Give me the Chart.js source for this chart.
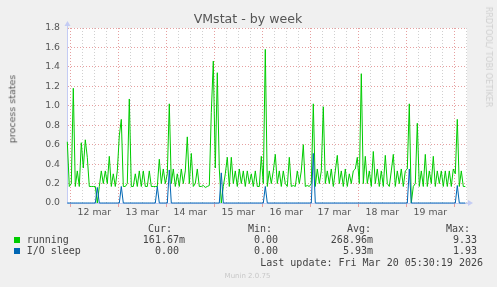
<!DOCTYPE html>
<html>
<head>
<meta charset="utf-8">
<script src="https://cdn.jsdelivr.net/npm/chart.js@4"></script>
<style>
    body { margin: 0; background: #f0f0f0; overflow: hidden; }
    #wrap { position: relative; width: 497px; height: 287px; font-family: 'DejaVu Sans', sans-serif; }
    #wrap canvas { position: absolute; left: 0; top: 0; }
    .t { position: absolute; line-height: 1; white-space: pre; }
    .mono { font-family: 'DejaVu Sans Mono', monospace; font-size: 10px; color: #444; }
    .r { text-align: right; }
    .sq { position: absolute; width: 6px; height: 6px; }
</style>
</head>
<body>
<div id="wrap">
    <canvas id="myChart" width="497" height="287"></canvas>
    <div class="t" style="left:0;width:496px;text-align:center;top:13.3px;font-size:12.6px;color:#555;">VMstat - by week</div>
    <div class="t" style="left:11.7px;top:108.5px;font-size:9.5px;color:#555;transform:translate(-50%,-50%) rotate(-90deg);">process states</div>
    <div class="t" style="left:487.8px;top:56.5px;font-size:8px;color:#d0d0d0;transform:translate(-50%,-50%) rotate(90deg);">RRDTOOL/ TOBI OETIKER</div>

    <div class="t mono r" style="right:325px;top:223.5px;">Cur:</div>
    <div class="t mono r" style="right:225px;top:223.5px;">Min:</div>
    <div class="t mono r" style="right:126px;top:223.5px;">Avg:</div>
    <div class="t mono r" style="right:27px;top:223.5px;">Max:</div>

    <div class="sq" style="left:14px;top:237px;background:#00cc00;"></div>
    <div class="t mono" style="left:26.7px;top:234.5px;">running</div>
    <div class="t mono r" style="right:312px;top:234.5px;">161.67m</div>
    <div class="t mono r" style="right:219px;top:234.5px;">0.00</div>
    <div class="t mono r" style="right:124px;top:234.5px;">268.96m</div>
    <div class="t mono r" style="right:20px;top:234.5px;">9.33</div>

    <div class="sq" style="left:14px;top:248px;background:#0066b3;"></div>
    <div class="t mono" style="left:26.7px;top:245.8px;">I/O sleep</div>
    <div class="t mono r" style="right:318px;top:245.8px;">0.00</div>
    <div class="t mono r" style="right:219px;top:245.8px;">0.00</div>
    <div class="t mono r" style="right:124px;top:245.8px;">5.93m</div>
    <div class="t mono r" style="right:20px;top:245.8px;">1.93</div>

    <div class="t mono r" style="right:14px;top:258.2px;">Last update: Fri Mar 20 05:30:19 2026</div>
    <div class="t" style="left:0;width:495px;text-align:center;top:273.1px;font-size:7px;color:#c8c8c8;">Munin 2.0.75</div>
</div>
<script>
// hourly samples, first one at 22:30 on 11 mar (hours relative to 12 mar 00:00)
const firstHour = -1.5;
const xMin = -1.65;
const xMax = 198.35;

const running = [
    0.63, 0.17, 0.2, 1.18, 0.17, 0.33, 0.17, 0.62, 0.36, 0.65,
    0.47, 0.17, 0.17, 0.17, 0.17, 0, 0.17, 0.33, 0.2, 0.33,
    0.2, 0.48, 0.17, 0.3, 0.17, 0.33, 0.69, 0.86, 0.17, 0.17,
    0.2, 1.07, 0.17, 0.17, 0.3, 0.17, 0.33, 0.17, 0.33, 0.17,
    0.17, 0.33, 0.17, 0.17, 0.17, 0.17, 0.45, 0.2, 0.35, 0.2,
    0.3, 1.02, 0.2, 0.35, 0.17, 0.3, 0.17, 0.35, 0.2, 0.33,
    0.68, 0.2, 0.51, 0.17, 0.2, 0.35, 0.17, 0.17, 0.18, 0.16,
    0.17, 0.18, 0.93, 1.46, 0.36, 1.34, 0.35, 0, 0.17, 0.3,
    0.47, 0.17, 0.47, 0.2, 0.33, 0.17, 0.35, 0.2, 0.33, 0.17,
    0.33, 0.2, 0.3, 0.17, 0.33, 0.17, 0.17, 0.48, 0.2, 1.58,
    0.17, 0.33, 0.2, 0.33, 0.5, 0.2, 0.33, 0.17, 0.33, 0.2,
    0.17, 0.47, 0.17, 0.18, 0.17, 0.33, 0.2, 0.33, 0.6, 0.17,
    0.18, 0.17, 0.2, 1.02, 0.17, 0.35, 0.2, 0.33, 0.99, 0.2,
    0.33, 0.2, 0.35, 0.17, 0.33, 0.49, 0.2, 0.33, 0.17, 0.35,
    0.17, 0.3, 0.2, 0.33, 0.35, 0.47, 0.2, 1.33, 0.2, 0.48,
    0.2, 0.33, 0.17, 0.53, 0.2, 0.35, 0.17, 0.33, 0.17, 0.49,
    0.2, 0.17, 0.33, 0.5, 0.17, 0.33, 0.2, 0.35, 0.17, 0.33,
    0.35, 1.02, 0, 0.17, 0.2, 0.82, 0.17, 0.33, 0.17, 0.5,
    0.17, 0.33, 0.2, 0.48, 0.17, 0.33, 0.2, 0.33, 0.17, 0.33,
    0.17, 0.33, 0.17, 0.35, 0.3, 0.86, 0.17, 0.33, 0.17, 0.17
];

const ioSleep = [
    0, 0, 0, 0, 0, 0, 0, 0, 0, 0,
    0, 0, 0, 0, 0, 0.16, 0, 0, 0, 0,
    0, 0, 0, 0, 0, 0, 0, 0.17, 0, 0,
    0, 0, 0, 0, 0, 0, 0, 0, 0, 0,
    0, 0, 0, 0, 0, 0.17, 0, 0, 0, 0,
    0, 0.34, 0, 0, 0, 0, 0, 0, 0, 0,
    0, 0, 0, 0, 0, 0, 0, 0, 0, 0,
    0, 0, 0, 0, 0, 0, 0, 0.31, 0, 0,
    0, 0, 0, 0, 0, 0, 0, 0, 0, 0,
    0, 0, 0, 0, 0, 0, 0, 0, 0, 0.17,
    0, 0, 0, 0, 0, 0, 0, 0, 0, 0,
    0, 0, 0, 0, 0, 0, 0, 0, 0, 0,
    0, 0, 0, 0.51, 0, 0, 0, 0, 0, 0,
    0, 0, 0, 0, 0, 0, 0, 0, 0, 0,
    0, 0, 0, 0, 0, 0, 0, 0, 0, 0,
    0, 0, 0, 0, 0, 0, 0, 0, 0, 0,
    0, 0, 0, 0, 0, 0, 0, 0, 0, 0,
    0, 0.35, 0, 0, 0, 0, 0, 0, 0, 0,
    0, 0, 0, 0, 0, 0, 0, 0, 0, 0,
    0, 0, 0, 0, 0, 0.18, 0, 0, 0, 0
];

const dayLabels = ['12 mar', '13 mar', '14 mar', '15 mar', '16 mar', '17 mar', '18 mar', '19 mar'];
const yLabels = ['0.0', '0.2', '0.4', '0.6', '0.8', '1.0', '1.2', '1.4', '1.6', '1.8'];

const axisColor = '#c4ccf4';
const majorGrid = '#e6a0a0';
const minorGrid = '#d0d0d0';

// x grid every 6 hours, y grid every 0.1
const xTickHours = [];
for (let h = 0; h <= xMax; h += 6) xTickHours.push(h);
const yTickTenths = [];
for (let k = 0; k <= 18; k++) yTickTenths.push(k);

const toPoints = (values) => values.map((y, i) => ({ x: firstHour + i, y: y }));

const plotBackground = {
    id: 'plotBackground',
    beforeDraw(chart)
    {
        const { ctx, chartArea: a } = chart;
        ctx.save();
        ctx.fillStyle = '#ffffff';
        ctx.fillRect(a.left, a.top, a.right - a.left, a.bottom - a.top);
        ctx.restore();
    }
};

const axisArrows = {
    id: 'axisArrows',
    afterDraw(chart)
    {
        const { ctx, chartArea: a } = chart;
        const x = a.left + 0.5;
        const y = a.bottom;
        ctx.save();
        ctx.strokeStyle = axisColor;
        ctx.fillStyle = axisColor;
        ctx.lineWidth = 1;
        ctx.beginPath();
        ctx.moveTo(x, a.top);
        ctx.lineTo(x, a.top - 3);
        ctx.moveTo(a.right, y);
        ctx.lineTo(a.right + 2, y);
        ctx.stroke();
        ctx.beginPath();
        ctx.moveTo(x, a.top - 7);
        ctx.lineTo(x - 3, a.top - 2);
        ctx.lineTo(x + 3, a.top - 2);
        ctx.closePath();
        ctx.fill();
        ctx.beginPath();
        ctx.moveTo(a.right + 6, y);
        ctx.lineTo(a.right + 1, y - 3);
        ctx.lineTo(a.right + 1, y + 3);
        ctx.closePath();
        ctx.fill();
        ctx.restore();
    }
};

Chart.defaults.font.family = "'DejaVu Sans', sans-serif";

new Chart(document.getElementById('myChart').getContext('2d'), {
    type: 'line',
    data: {
        datasets: [
            {
                label: 'I/O sleep',
                data: toPoints(ioSleep),
                borderColor: '#0066b3',
                borderWidth: 1,
                pointRadius: 0,
                tension: 0,
                clip: 4
            },
            {
                label: 'running',
                data: toPoints(running),
                borderColor: '#00cc00',
                borderWidth: 1,
                pointRadius: 0,
                tension: 0,
                clip: 4
            }
        ]
    },
    options: {
        responsive: false,
        animation: false,
        devicePixelRatio: 1,
        layout: {
            padding: { top: 28, right: 30, bottom: 64, left: 0 }
        },
        plugins: {
            legend: { display: false },
            tooltip: { enabled: false }
        },
        scales: {
            x: {
                type: 'linear',
                min: xMin,
                max: xMax,
                afterBuildTicks: (scale) => { scale.ticks = xTickHours.map(v => ({ value: v })); },
                afterFit: (scale) => { scale.height = 20; },
                ticks: {
                    autoSkip: false,
                    maxRotation: 0,
                    padding: 0,
                    color: '#555',
                    font: { size: 9.3 },
                    callback: (value) => value % 24 === 12 ? dayLabels[(value - 12) / 24] : ''
                },
                grid: {
                    color: (c) => c.tick && c.tick.value % 24 === 0 ? majorGrid : minorGrid,
                    tickColor: (c) => c.tick && c.tick.value % 24 === 0 ? majorGrid : 'rgba(0,0,0,0)',
                    tickLength: 4
                },
                border: { color: axisColor, dash: [1, 2] }
            },
            y: {
                min: 0,
                max: 1.8,
                afterBuildTicks: (scale) => { scale.ticks = yTickTenths.map(k => ({ value: k / 10 })); },
                afterFit: (scale) => { scale.width = 67; },
                ticks: {
                    padding: 7,
                    color: '#555',
                    font: { size: 9.3 },
                    callback: (value) =>
                    {
                        const k = Math.round(value * 10);
                        return k % 2 === 0 ? yLabels[k / 2] : '';
                    }
                },
                grid: {
                    drawTicks: false,
                    color: (c) => c.tick && Math.round(c.tick.value * 10) % 2 === 0 ? majorGrid : minorGrid
                },
                border: { color: axisColor, dash: [1, 2] }
            }
        }
    },
    plugins: [plotBackground, axisArrows]
});
</script>
</body>
</html>
